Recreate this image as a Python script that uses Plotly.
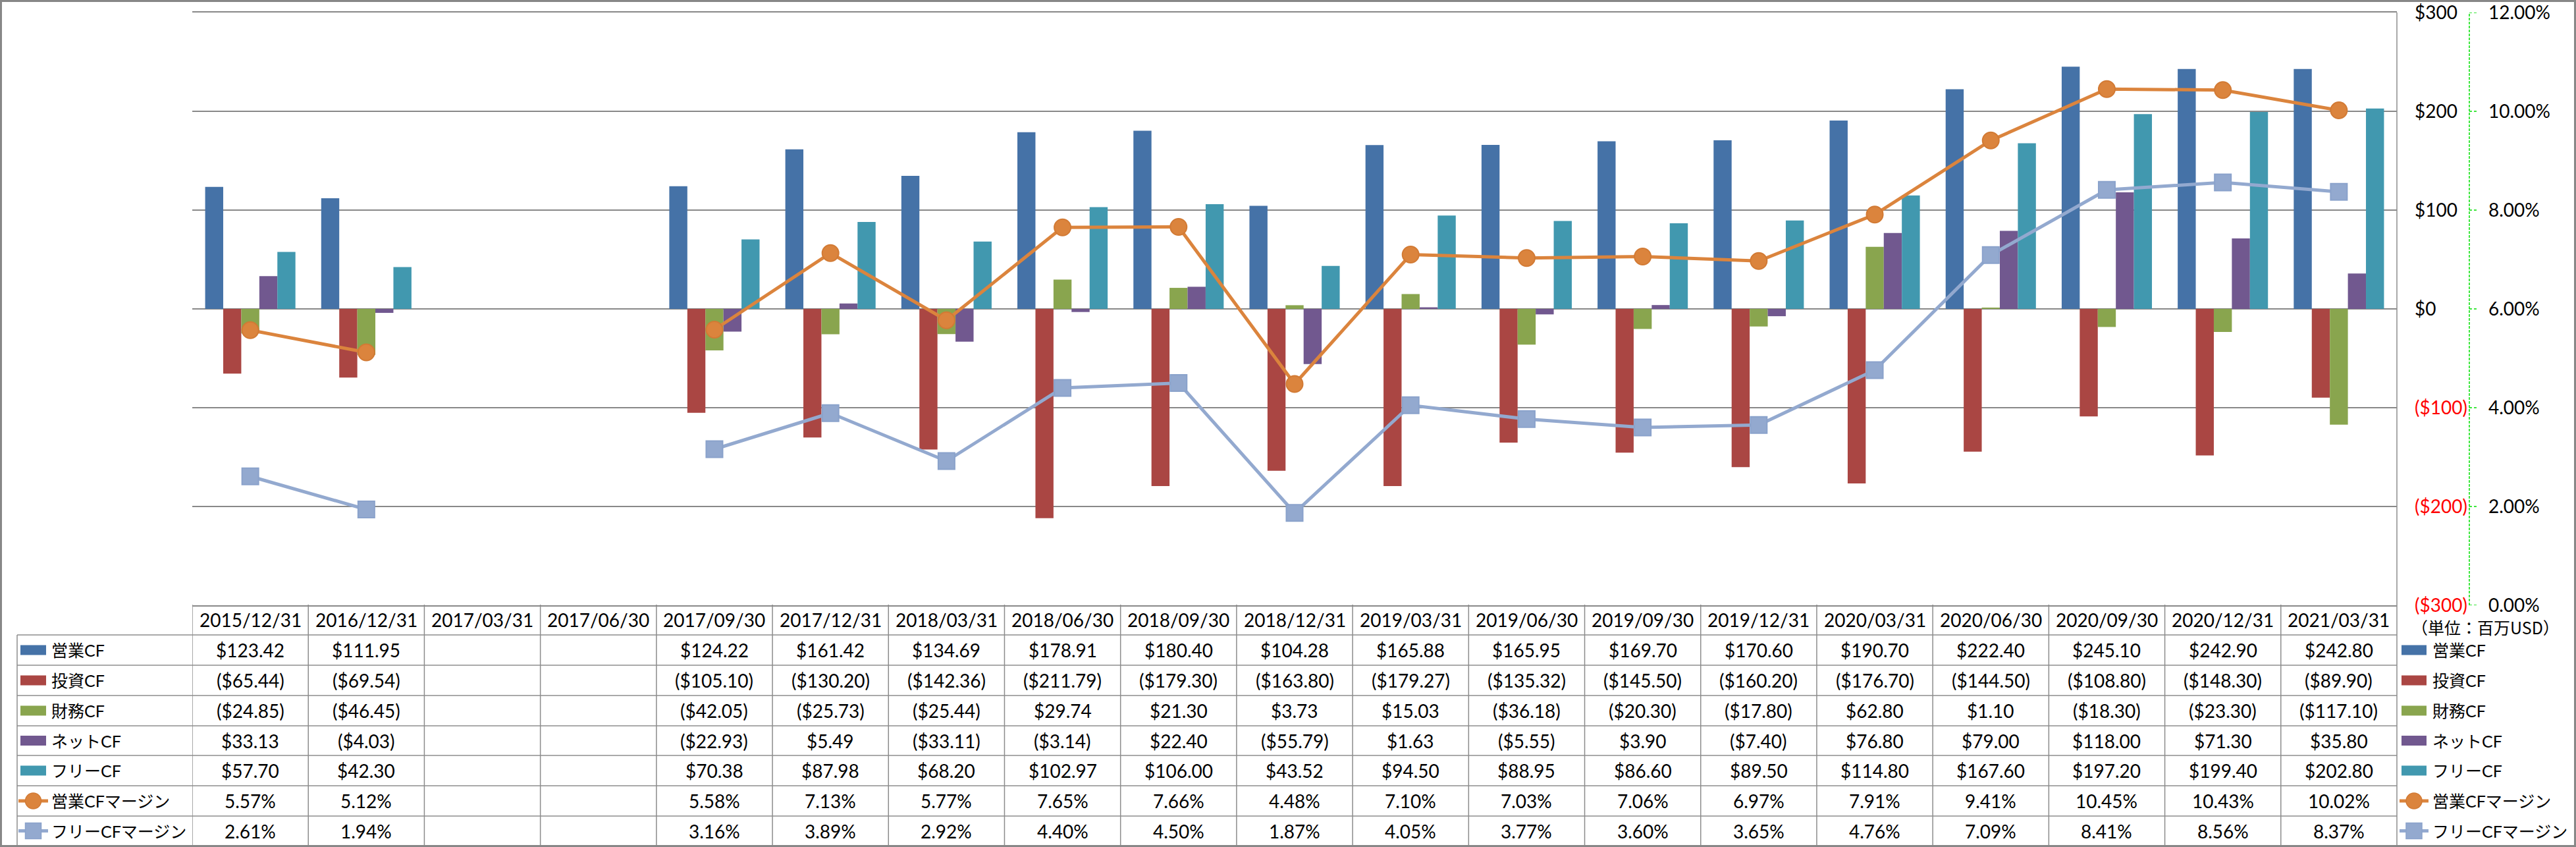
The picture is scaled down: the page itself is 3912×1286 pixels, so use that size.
import plotly.graph_objects as go

# ---------------- data ----------------
dates = ["2015/12/31", "2016/12/31", "2017/03/31", "2017/06/30", "2017/09/30",
         "2017/12/31", "2018/03/31", "2018/06/30", "2018/09/30", "2018/12/31",
         "2019/03/31", "2019/06/30", "2019/09/30", "2019/12/31", "2020/03/31",
         "2020/06/30", "2020/09/30", "2020/12/31", "2021/03/31"]
op_cf = [123.42, 111.95, None, None, 124.22, 161.42, 134.69, 178.91, 180.40, 104.28,
         165.88, 165.95, 169.70, 170.60, 190.70, 222.40, 245.10, 242.90, 242.80]
inv_cf = [-65.44, -69.54, None, None, -105.10, -130.20, -142.36, -211.79, -179.30, -163.80,
          -179.27, -135.32, -145.50, -160.20, -176.70, -144.50, -108.80, -148.30, -89.90]
fin_cf = [-24.85, -46.45, None, None, -42.05, -25.73, -25.44, 29.74, 21.30, 3.73,
          15.03, -36.18, -20.30, -17.80, 62.80, 1.10, -18.30, -23.30, -117.10]
net_cf = [33.13, -4.03, None, None, -22.93, 5.49, -33.11, -3.14, 22.40, -55.79,
          1.63, -5.55, 3.90, -7.40, 76.80, 79.00, 118.00, 71.30, 35.80]
free_cf = [57.70, 42.30, None, None, 70.38, 87.98, 68.20, 102.97, 106.00, 43.52,
           94.50, 88.95, 86.60, 89.50, 114.80, 167.60, 197.20, 199.40, 202.80]
op_margin = [5.57, 5.12, None, None, 5.58, 7.13, 5.77, 7.65, 7.66, 4.48,
             7.10, 7.03, 7.06, 6.97, 7.91, 9.41, 10.45, 10.43, 10.02]
fcf_margin = [2.61, 1.94, None, None, 3.16, 3.89, 2.92, 4.40, 4.50, 1.87,
              4.05, 3.77, 3.60, 3.65, 4.76, 7.09, 8.41, 8.56, 8.37]

bar_names = ["営業CF", "投資CF", "財務CF", "ネットCF", "フリーCF"]
line_names = ["営業CFマージン", "フリーCFマージン"]
usd_ticks = [300, 200, 100, 0, -100, -200, -300]
pct_ticks = [12, 10, 8, 6, 4, 2, 0]
unit_label = "（単位：百万USD）"

# ---------------- style ----------------
W, H = 3912, 1286
FONT = "Lato, 'Noto Sans CJK JP', sans-serif"
FS = 28
bar_colors = ["#4572A7", "#AA4643", "#89A54E", "#71588F", "#4198AF"]
line_colors = ["#DB843D", "#93A9CF"]
marker_lines = ["#D27A34", "#8AA2CB"]
grid_c = "#888888"
table_c = "#8C8C8C"

def px(x):
    return x / W

def py(y):
    return 1 - y / H

PL, PR, PT, PB = 292, 3640, 19, 919
row_edges = [918, 964, 1010, 1056, 1102, 1147, 1193, 1239, 1284]

fig = go.Figure()
bar_series = [op_cf, inv_cf, fin_cf, net_cf, free_cf]
for name, vals, c in zip(bar_names, bar_series, bar_colors):
    fig.add_trace(go.Bar(x=list(range(len(dates))), y=vals, name=name,
                         marker=dict(color=c, line=dict(width=0)), yaxis="y"))

line_series = [op_margin, fcf_margin]
symbols = ["circle", "square"]
for name, vals, c, mc, s in zip(line_names, line_series, line_colors, marker_lines, symbols):
    fig.add_trace(go.Scatter(x=list(range(len(dates))), y=vals, name=name, yaxis="y2",
                             mode="lines+markers", connectgaps=False,
                             line=dict(color=c, width=5),
                             marker=dict(symbol=s, size=25, color=c,
                                         line=dict(color=mc, width=2))))

def usd_txt(v):
    if v < 0:
        return '<span style="color:#FF0000">($%d)</span>' % (-v)
    return "$%d" % v

fig.update_layout(
    width=W, height=H, margin=dict(l=0, r=0, t=0, b=0, autoexpand=False),
    paper_bgcolor="white", plot_bgcolor="white",
    barmode="group", bargap=0.222, bargroupgap=0,
    showlegend=False,
    font=dict(family=FONT, size=FS, color="black"),
    xaxis=dict(domain=[px(PL), px(PR)], range=[-0.5, len(dates) - 0.5],
               showticklabels=False, showgrid=False, zeroline=False,
               showline=True, mirror=True, linecolor=grid_c, linewidth=1.5,
               ticks="", automargin=False),
    yaxis=dict(domain=[py(PB), py(PT)], range=[-300, 300],
               tickvals=usd_ticks, ticktext=[usd_txt(v) for v in usd_ticks],
               side="right", anchor="free", position=px(PR),
               showgrid=True, gridcolor=grid_c, gridwidth=1.5,
               zeroline=True, zerolinecolor=grid_c, zerolinewidth=1.5,
               showline=False, ticks="", ticklabelstandoff=26, automargin=False,
               tickfont=dict(family=FONT, size=FS, color="black")),
    yaxis2=dict(domain=[py(PB), py(PT)], range=[0, 12], overlaying="y",
                tickvals=pct_ticks, ticktext=["%.2f%%" % v for v in pct_ticks],
                side="right", anchor="free", position=px(3750),
                showgrid=False, zeroline=False, showline=False, ticks="",
                ticklabelstandoff=28, automargin=False,
                tickfont=dict(family=FONT, size=FS, color="black")),
)

shapes = []
annos = []

# dashed green axis line for the % axis, with dashed ticks
shapes.append(dict(type="line", xref="paper", yref="paper", x0=px(3750), x1=px(3750),
                   y0=py(PB), y1=py(PT), line=dict(color="#00E000", width=1.5, dash="4px,2px")))
for t in pct_ticks:
    shapes.append(dict(type="line", xref="paper", yref="y2", x0=px(3750), x1=px(3763),
                       y0=t, y1=t, line=dict(color="#00E000", width=1.5, dash="4px,3px")))

# right border of plot area / table
shapes.append(dict(type="line", xref="paper", yref="paper", x0=px(PR), x1=px(PR),
                   y0=py(PT), y1=py(1284), line=dict(color=table_c, width=1.5)))

# table vertical lines (category boundaries)
for i in range(len(dates)):
    shapes.append(dict(type="line", xref="x", yref="paper", x0=i - 0.5, x1=i - 0.5,
                       y0=py(row_edges[0]), y1=py(row_edges[-1]),
                       line=dict(color=table_c, width=1.5)))
# legend column left edge
shapes.append(dict(type="line", xref="paper", yref="paper", x0=px(26), x1=px(26),
                   y0=py(row_edges[1]), y1=py(row_edges[-1]),
                   line=dict(color=table_c, width=1.5)))
# table horizontal lines
for y in row_edges[1:-1]:
    shapes.append(dict(type="line", xref="paper", yref="paper", x0=px(26), x1=px(PR),
                       y0=py(y), y1=py(y), line=dict(color=table_c, width=1.5)))

# header dates
hc = (row_edges[0] + row_edges[1]) / 2
for i, d in enumerate(dates):
    annos.append(dict(xref="x", yref="paper", x=i, y=py(hc), text=d, showarrow=False,
                      xanchor="center", yanchor="middle", font=dict(size=FS)))

def money(v):
    if v is None:
        return ""
    if v < 0:
        return "($%.2f)" % (-v)
    return "$%.2f" % v

def pct(v):
    return "" if v is None else "%.2f%%" % v

table_rows = [[money(v) for v in s] for s in bar_series] + \
             [[pct(v) for v in s] for s in line_series]
row_names = bar_names + line_names
row_colors = bar_colors + line_colors

for r, (vals, name, col) in enumerate(zip(table_rows, row_names, row_colors)):
    yc = (row_edges[r + 1] + row_edges[r + 2]) / 2
    for i, t in enumerate(vals):
        if t:
            annos.append(dict(xref="x", yref="paper", x=i, y=py(yc), text=t,
                              showarrow=False, xanchor="center", yanchor="middle",
                              font=dict(size=FS)))
    # legend keys: left (in table) and right
    for kx0, kx1, tx in [(31, 70, 76), (3647, 3685, 3692)]:
        if r < 5:
            shapes.append(dict(type="rect", xref="paper", yref="paper",
                               x0=px(kx0), x1=px(kx1), y0=py(yc - 7.5), y1=py(yc + 7.5),
                               fillcolor=col, line=dict(width=0)))
        else:
            lx0, lx1 = kx0 - 3, kx1 + 3
            shapes.append(dict(type="line", xref="paper", yref="paper",
                               x0=px(lx0), x1=px(lx1), y0=py(yc), y1=py(yc),
                               line=dict(color=col, width=5)))
            cx = (lx0 + lx1) / 2
            shapes.append(dict(type="circle" if r == 5 else "rect", xref="paper", yref="paper",
                               x0=px(cx - 12), x1=px(cx + 12), y0=py(yc - 12), y1=py(yc + 12),
                               fillcolor=col, line=dict(color=marker_lines[r - 5], width=1.5)))
        annos.append(dict(xref="paper", yref="paper", x=px(tx), y=py(yc), text=name,
                          showarrow=False, xanchor="left", yanchor="middle",
                          font=dict(size=25)))

# unit label
annos.append(dict(xref="paper", yref="paper", x=px(3660), y=py(952), text=unit_label,
                  showarrow=False, xanchor="left", yanchor="middle",
                  font=dict(family="'Noto Sans CJK JP', sans-serif", size=25)))

# outer chart border
shapes.append(dict(type="rect", xref="paper", yref="paper", x0=px(1.5), x1=px(W - 1.5),
                   y0=py(H - 1.5), y1=py(1.5), line=dict(color="#878787", width=3)))

fig.update_layout(shapes=shapes, annotations=annos)
fig.write_html("out.html", config={"displayModeBar": False},
               post_script="document.body.style.margin='0';document.body.style.overflow='hidden';")
